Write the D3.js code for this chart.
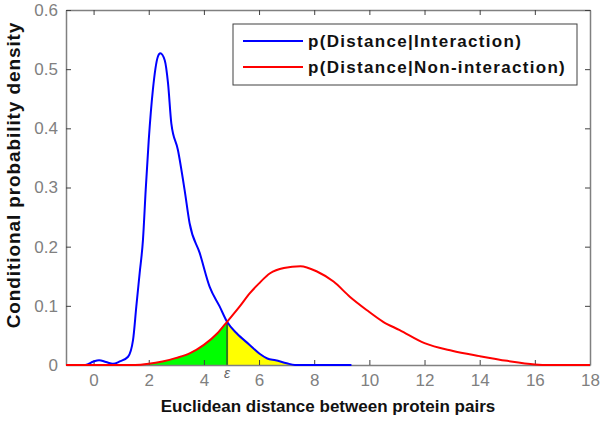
<!DOCTYPE html>
<html lang="en">
<head>
  <meta charset="UTF-8">
  <title>Conditional probability density</title>
  <script src="https://d3js.org/d3.v7.min.js"></script>
  <style>
    body { margin: 0; background: #fff; font-family: "Liberation Sans", Arial, sans-serif; }
    #chart { width: 600px; height: 423px; }
  </style>
</head>
<body>
  <div id="chart"></div>
  <script>
    // distances and densities
    const distInter = [-1, -0.3, 0, 0.2, 0.45, 0.7, 0.95, 1.25, 1.43, 1.55, 1.67, 1.79, 1.89, 2.0, 2.15, 2.33, 2.42, 2.58, 2.7, 2.82, 3.06, 3.3, 3.48, 3.85, 4.21, 4.57, 4.84, 5.18, 5.66, 6.02, 6.3, 6.6, 7.0, 7.3, 9.35];
    const pInter = [0, 0, 0.006, 0.008, 0.005, 0.002, 0.006, 0.014, 0.042, 0.099, 0.155, 0.211, 0.296, 0.38, 0.465, 0.521, 0.527, 0.515, 0.476, 0.408, 0.363, 0.296, 0.24, 0.189, 0.132, 0.099, 0.073, 0.054, 0.034, 0.019, 0.011, 0.008, 0.003, 0, 0];
    const distNon = [-1, 1.5, 2.0, 2.5, 3.0, 3.5, 4.0, 4.5, 4.84, 5.3, 5.66, 6.0, 6.4, 6.9, 7.5, 8.1, 8.7, 9.3, 9.9, 10.5, 11.1, 12, 13, 14, 15, 16, 16.5, 18];
    const pNon = [0, 0, 0.002, 0.006, 0.012, 0.02, 0.034, 0.054, 0.073, 0.099, 0.121, 0.138, 0.155, 0.164, 0.167, 0.158, 0.141, 0.115, 0.093, 0.073, 0.059, 0.037, 0.024, 0.015, 0.007, 0.001, 0, 0];
    const epsilon = 4.84;
    const xTicks = [0, 2, 4, 6, 8, 10, 12, 14, 16, 18];
    const yTicks = [0, 0.1, 0.2, 0.3, 0.4, 0.5, 0.6];
    const legendLabels = ["p(Distance|Interaction)", "p(Distance|Non-interaction)"];
    const colors = ["#0000ff", "#ff0000"];

    const width = 600, height = 423;
    const mLeft = 66, mRight = 590, mTop = 10, mBottom = 365;

    const svg = d3.select("#chart").append("svg")
                  .attr("width", width)
                  .attr("height", height);

    const x = d3.scaleLinear().domain([-1, 18]).range([mLeft, mRight]);
    const y = d3.scaleLinear().domain([0, 0.6]).range([mBottom, mTop]);

    const inter = distInter.map((d, i) => ({ d: d, p: pInter[i] }));
    const non = distNon.map((d, i) => ({ d: d, p: pNon[i] }));

    // clip regions either side of epsilon
    const defs = svg.append("defs");
    defs.append("clipPath").attr("id", "leftEps").append("rect")
        .attr("x", mLeft).attr("y", mTop)
        .attr("width", x(epsilon) - mLeft).attr("height", mBottom - mTop);
    defs.append("clipPath").attr("id", "rightEps").append("rect")
        .attr("x", x(epsilon)).attr("y", mTop)
        .attr("width", mRight - x(epsilon)).attr("height", mBottom - mTop);

    const area = d3.area().curve(d3.curveMonotoneX)
                   .x(d => x(d.d)).y0(y(0)).y1(d => y(d.p));
    const line = d3.line().curve(d3.curveMonotoneX)
                   .x(d => x(d.d)).y(d => y(d.p));

    svg.append("path").datum(non)
       .attr("clip-path", "url(#leftEps)")
       .attr("fill", "#00ff00")
       .attr("stroke", "none")
       .attr("d", area);
    svg.append("path").datum(inter)
       .attr("clip-path", "url(#rightEps)")
       .attr("fill", "#ffff00")
       .attr("stroke", "none")
       .attr("d", area);

    svg.append("line")
       .attr("x1", x(epsilon)).attr("x2", x(epsilon))
       .attr("y1", y(0)).attr("y2", y(0.073))
       .attr("stroke", "#2f7a1f").attr("stroke-width", 2);

    // axes (box with inward ticks)
    const axisColor = "#808080";
    const gx = svg.append("g").attr("transform", `translate(0,${mBottom})`)
                  .call(d3.axisBottom(x).tickValues(xTicks).tickSizeInner(-5).tickSizeOuter(0).tickPadding(9));
    const gxt = svg.append("g").attr("transform", `translate(0,${mTop})`)
                   .call(d3.axisTop(x).tickValues(xTicks).tickSizeInner(-5).tickSizeOuter(0).tickFormat(""));
    const gy = svg.append("g").attr("transform", `translate(${mLeft},0)`)
                  .call(d3.axisLeft(y).tickValues(yTicks).tickSizeInner(-5).tickSizeOuter(0).tickPadding(8).tickFormat(d => d === 0 ? "0" : d3.format(".1f")(d)));
    const gyr = svg.append("g").attr("transform", `translate(${mRight},0)`)
                   .call(d3.axisRight(y).tickValues(yTicks).tickSizeInner(-5).tickSizeOuter(0).tickFormat(""));

    [gx, gxt, gy, gyr].forEach(g => {
      g.select(".domain").attr("stroke", axisColor).attr("stroke-width", 1.5);
      g.selectAll(".tick line").attr("stroke", "#404040");
      g.selectAll(".tick text").attr("fill", axisColor)
       .style("font-family", "Liberation Sans, Arial, sans-serif").style("font-size", "17px");
    });

    svg.append("text")
       .attr("x", x(epsilon)).attr("y", mBottom + 13)
       .attr("text-anchor", "middle")
       .attr("fill", "#666")
       .style("font-style", "italic").style("font-size", "14px")
       .text("ε");

    // curves
    svg.append("path").datum(inter)
       .attr("fill", "none").attr("stroke", colors[0]).attr("stroke-width", 2)
       .attr("d", line);
    svg.append("path").datum(non)
       .attr("fill", "none").attr("stroke", colors[1]).attr("stroke-width", 2)
       .attr("d", line);

    // axis labels
    svg.append("text")
       .attr("x", 328).attr("y", 412)
       .attr("text-anchor", "middle").attr("fill", "#111")
       .style("font-size", "17px").style("font-weight", "bold")
       .text("Euclidean distance between protein pairs");
    svg.append("text")
       .attr("transform", "translate(20,175) rotate(-90)")
       .attr("text-anchor", "middle").attr("fill", "#111")
       .style("font-size", "19px").style("font-weight", "bold").style("letter-spacing", "0.9px")
       .text("Conditional probability density");

    // legend
    const legend = svg.append("g");
    legend.append("rect")
          .attr("x", 233).attr("y", 24).attr("width", 344).attr("height", 61)
          .attr("fill", "#fff").attr("stroke", "#404040").attr("stroke-width", 1);
    legendLabels.forEach((label, i) => {
      const ly = 41 + i * 26;
      legend.append("line")
            .attr("x1", 243).attr("x2", 303).attr("y1", ly).attr("y2", ly)
            .attr("stroke", colors[i]).attr("stroke-width", 2);
      legend.append("text")
            .attr("x", 308).attr("y", ly + 6)
            .attr("fill", "#111").style("font-size", "17px").style("font-weight", "bold")
            .style("letter-spacing", "1.3px")
            .text(label);
    });
  </script>
</body>
</html>
